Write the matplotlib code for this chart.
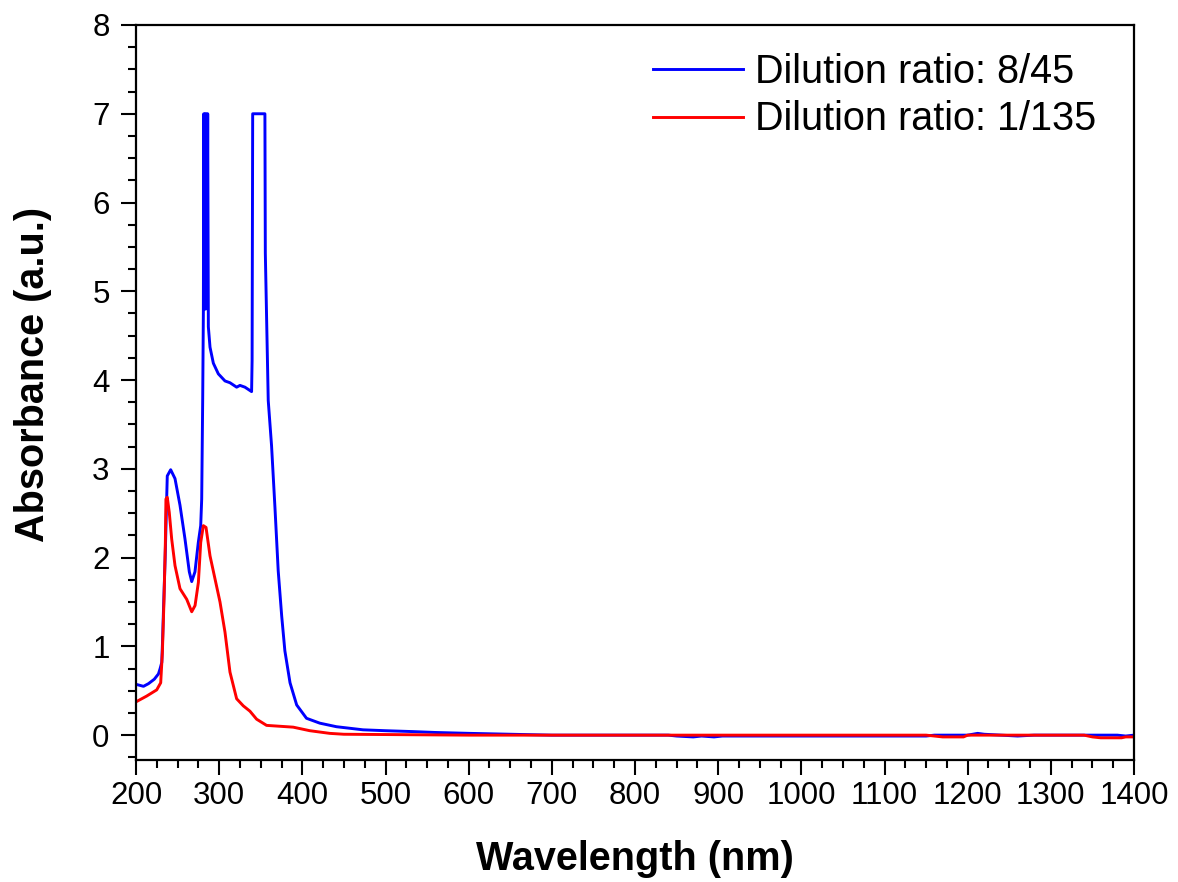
import matplotlib
matplotlib.use("Agg")
import matplotlib.pyplot as plt
from matplotlib.ticker import MultipleLocator

plt.rcParams['font.family'] = ['Liberation Sans', 'DejaVu Sans']

# Dilution ratio 8/45 (blue)
blue_wl = [199, 205, 209, 215, 222, 227, 229, 231, 232, 233, 235, 237.6, 241.7, 246.9, 252.9,
           258.9, 264.1, 267, 270.9, 274.9, 277.8, 279, 280.2, 281, 281.5, 282.2, 283, 283.8,
           284.6, 285.4, 286.2, 287, 289, 293, 299, 307, 313, 321, 325, 331, 339, 339.6, 340.3,
           355, 355.5, 357.1, 359, 363, 367.1, 371, 375.2, 379, 385.2, 393.2, 405, 421, 441,
           473, 500, 533, 560, 601, 700, 840, 850, 870, 880, 895, 905, 1000, 1100, 1150, 1160,
           1200, 1212, 1220, 1240, 1260, 1280, 1300, 1380, 1390, 1400]
blue_abs = [0.575, 0.56, 0.55, 0.58, 0.63, 0.69, 0.75, 0.82, 1.08, 1.4, 1.98, 2.92, 2.99, 2.89, 2.59,
            2.21, 1.84, 1.73, 1.84, 2.17, 2.36, 2.66, 3.79, 4.77, 7.0, 4.8, 7.0, 4.8, 7.0, 4.9,
            7.0, 4.6, 4.37, 4.19, 4.07, 3.99, 3.97, 3.92, 3.94, 3.92, 3.87, 4.22, 7.0,
            7.0, 5.43, 4.67, 3.77, 3.26, 2.56, 1.85, 1.34, 0.95, 0.59, 0.34, 0.19, 0.135, 0.095,
            0.06, 0.05, 0.04, 0.03, 0.02, 0.0, 0.0, -0.01, -0.02, -0.01, -0.02, -0.01, -0.01, -0.01, -0.01, 0.0,
            0.0, 0.02, 0.01, 0.0, -0.01, 0.0, 0.0, 0.0, -0.01, 0.0]

# Dilution ratio 1/135 (red)
red_wl = [199, 212.8, 224.9, 229.7, 231.7, 233.7, 235.3, 236, 237.6, 240, 242.9, 246.9, 252.9,
          261, 267, 271, 275, 277.8, 281, 284.2, 289, 295, 301, 307, 313, 321, 329, 337, 345,
          357, 373, 389, 409, 433, 450, 600, 800, 1000, 1150, 1160, 1170, 1195, 1200, 1340,
          1350, 1360, 1385, 1390, 1400]
red_abs = [0.37, 0.44, 0.51, 0.59, 0.93, 1.53, 2.17, 2.66, 2.68, 2.51, 2.21, 1.91, 1.65,
           1.53, 1.39, 1.46, 1.72, 2.17, 2.36, 2.34, 2.02, 1.76, 1.50, 1.16, 0.71, 0.41, 0.33,
           0.27, 0.18, 0.11, 0.10, 0.09, 0.05, 0.02, 0.01, 0.0, 0.0, 0.0, 0.0, -0.01, -0.02,
           -0.02, 0.0, 0.0, -0.02, -0.03, -0.03, -0.02, -0.02]

x_ticks = [200, 300, 400, 500, 600, 700, 800, 900, 1000, 1100, 1200, 1300, 1400]
y_ticks = [0, 1, 2, 3, 4, 5, 6, 7, 8]

W, H = 1178, 882
fig = plt.figure(figsize=(W / 100, H / 100), dpi=100)
ax = fig.add_axes([136 / W, 1 - 760 / H, (1134 - 136) / W, (760 - 25) / H])

ax.plot(blue_wl, blue_abs, color='#0000ff', lw=2.1, label='Dilution ratio: 8/45')
ax.plot(red_wl, red_abs, color='#ff0000', lw=2.1, label='Dilution ratio: 1/135')

ax.set_xlim(200, 1400)
ax.set_ylim(-0.28, 8)
ax.set_xticks(x_ticks)
ax.set_yticks(y_ticks)
ax.xaxis.set_minor_locator(MultipleLocator(25))
ax.yaxis.set_minor_locator(MultipleLocator(0.25))
ax.tick_params(which='major', direction='out', length=11, width=1.5, labelsize=22.5)
ax.tick_params(axis='x', which='major', pad=4)
ax.tick_params(axis='y', which='major', pad=8)
ax.tick_params(which='minor', direction='out', length=5.5, width=1.5)
for s in ax.spines.values():
    s.set_linewidth(1.6)

ax.set_xlabel('Wavelength (nm)', fontsize=28.5, fontweight='bold')
ax.set_ylabel('Absorbance (a.u.)', fontsize=28.5, fontweight='bold')
ax.xaxis.set_label_coords(0.5, -(840 - 760) / (760 - 25))
ax.yaxis.set_label_coords((52 - 136) / (1134 - 136), 0.525)

leg = ax.legend(loc='upper right', frameon=False, fontsize=28.5, handlelength=2.28,
                handletextpad=0.3, labelspacing=0.24, borderpad=0, borderaxespad=0,
                bbox_to_anchor=(1096 / W, 1 - 53 / H), bbox_transform=fig.transFigure)

fig.savefig('out.png', dpi=100)
